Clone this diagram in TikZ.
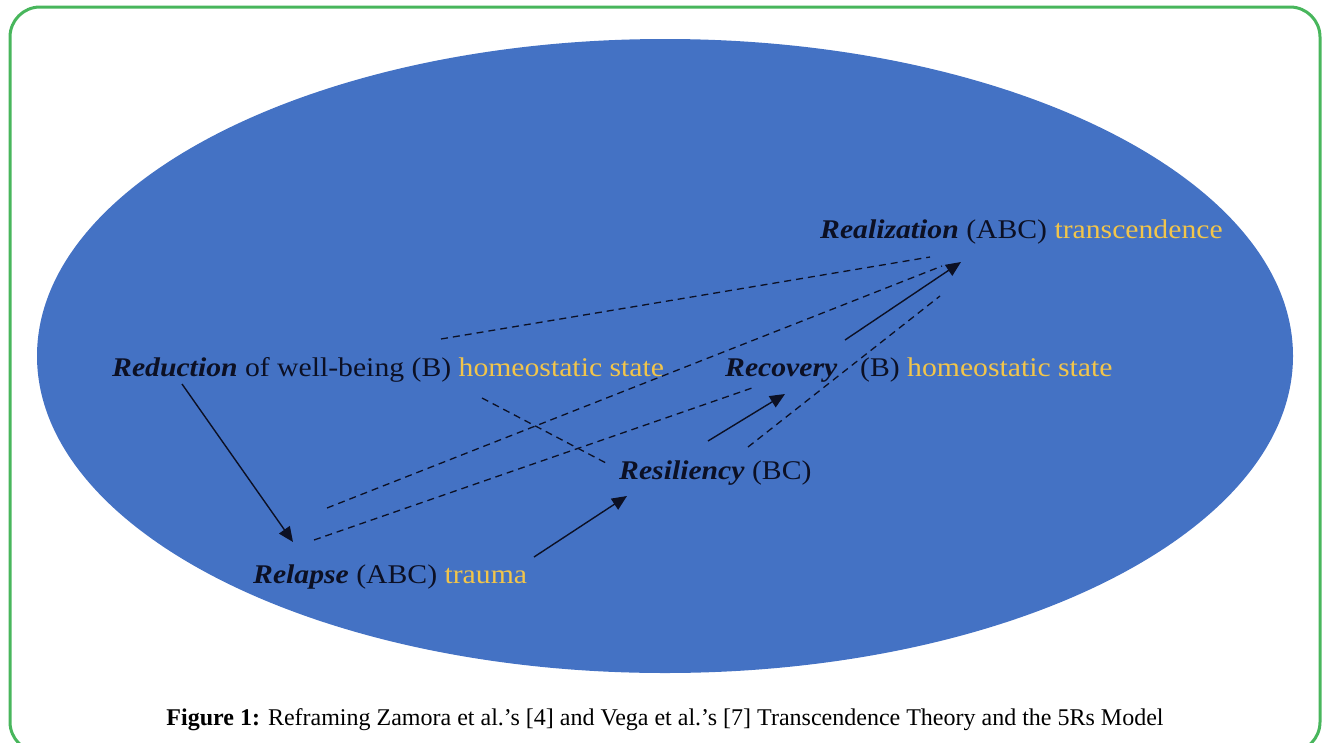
\documentclass[tikz,border=0pt]{standalone}
\usepackage{fontspec}
\setmainfont{Liberation Serif}
\newfontfamily\lblfont[FakeStretch=1.1]{Liberation Serif}
\usetikzlibrary{arrows.meta}
\definecolor{ellblue}{RGB}{68,114,196}
\definecolor{goldtxt}{RGB}{242,197,74}
\definecolor{darktxt}{RGB}{12,16,36}
\definecolor{framegreen}{RGB}{72,182,92}
\begin{document}
\begin{tikzpicture}[x=1pt,y=-1pt,
  lbl/.style={anchor=base west,inner sep=0pt,text=darktxt,font=\lblfont\fontsize{27}{31}\selectfont},
  flow/.style={draw=darktxt,line width=1.4pt,-{Triangle[length=15pt,width=13pt]}},
  link/.style={draw=darktxt,line width=1.3pt,dash pattern=on 7pt off 5pt},
  capt/.style={anchor=base,inner sep=0pt,text=black,font=\fontsize{24}{28}\selectfont}]
\useasboundingbox (0,0) rectangle (1322,742);
\begin{scope}
\clip (0,0) rectangle (1322,742);
\draw[framegreen,line width=3pt,rounded corners=30pt] (10,7) rectangle (1320,752);
\end{scope}
\fill[ellblue] (665,356) ellipse [x radius=628pt, y radius=317pt];
% text nodes
\node[lbl] (realiz) at (820,238) {\textbf{\textit{Realization}} (ABC) \textcolor{goldtxt}{transcendence}};
\node[lbl] (reduc) at (112,376) {\textbf{\textit{Reduction}} of well-being (B) \textcolor{goldtxt}{homeostatic state}};
\node[lbl] (recov) at (725,376) {\textbf{\textit{Recovery}}};
\node[lbl] (recovb) at (860,376) {(B) \textcolor{goldtxt}{homeostatic state}};
\node[lbl] (resil) at (619,479) {\textbf{\textit{Resiliency}} (BC)};
\node[lbl] (relap) at (253,583) {\textbf{\textit{Relapse}} (ABC) \textcolor{goldtxt}{trauma}};
\node[capt] (cap) at (665,725) {\textbf{Figure 1:} Reframing Zamora et al.’s [4] and Vega et al.’s [7] Transcendence Theory and the 5Rs Model};
% connector ends
\coordinate (rdA) at (182,384);
\coordinate (rlA) at (293,542);
\coordinate (rlB) at (534,557);
\coordinate (rsA) at (627,496);
\coordinate (rsB) at (708,441);
\coordinate (rcA) at (785,394);
\coordinate (rcB) at (845,340);
\coordinate (rzA) at (961,262);
\coordinate (rdD1) at (441,339);
\coordinate (rzD1) at (930,257);
\coordinate (rlD2) at (327,508);
\coordinate (rzD2) at (942,266);
\coordinate (rlD3) at (314,540);
\coordinate (rcD3) at (752,388);
\coordinate (rdD4) at (482,398);
\coordinate (rsD4) at (606,463);
\coordinate (rsD5) at (748,447);
\coordinate (rzD5) at (940,296);
% solid arrows
\draw[flow] (rdA) -- (rlA);
\draw[flow] (rlB) -- (rsA);
\draw[flow] (rsB) -- (rcA);
\draw[flow] (rcB) -- (rzA);
% dashed links
\draw[link] (rdD1) -- (rzD1);
\draw[link] (rlD2) -- (rzD2);
\draw[link] (rlD3) -- (rcD3);
\draw[link] (rdD4) -- (rsD4);
\draw[link] (rsD5) -- (rzD5);
\end{tikzpicture}
\end{document}
